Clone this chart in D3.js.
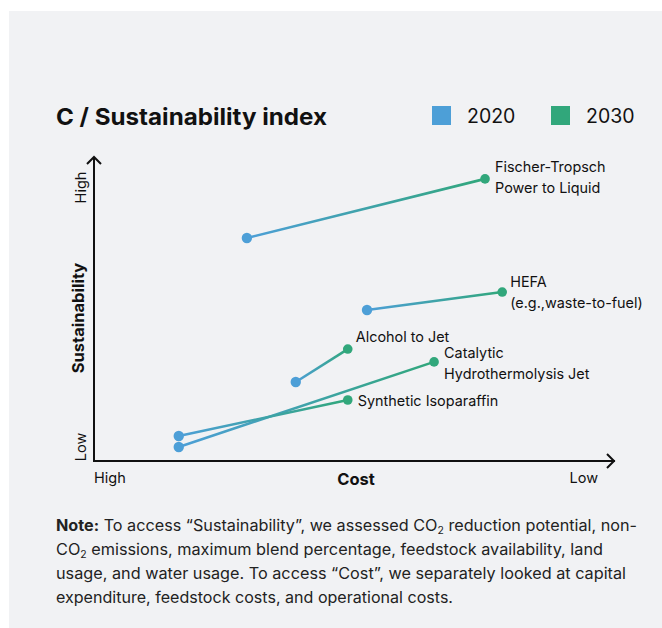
<!DOCTYPE html>
<html lang="en">
<head>
    <meta charset="UTF-8">
    <title>Sustainability index</title>
    <script src="https://d3js.org/d3.v7.min.js"></script>
    <style>
        body { margin: 0; background: #ffffff; }
        text { font-family: Inter, "Noto Sans", Arial, sans-serif; fill: #111; }
    </style>
</head>
<body>
</body>

<script>
    // data (index 0-100, cost axis runs High -> Low)
    var technologies = ["Fischer-Tropsch Power to Liquid", "HEFA", "Alcohol to Jet",
        "Catalytic Hydrothermolysis Jet", "Synthetic Isoparaffin"];
    var labelLines = [["Fischer-Tropsch", "Power to Liquid"], ["HEFA", "(e.g.,waste-to-fuel)"],
        ["Alcohol to Jet"], ["Catalytic", "Hydrothermolysis Jet"], ["Synthetic Isoparaffin"]];
    var cost2020 = [29.4, 52.5, 38.8, 16.3, 16.3];
    var sust2020 = [73.1, 49.5, 25.9, 4.6, 8.2];
    var cost2030 = [75.2, 78.5, 48.8, 65.4, 48.8];
    var sust2030 = [92.5, 55.4, 36.7, 32.5, 20.0];
    var years = ["2020", "2030"];

    var width = 662, height = 628;
    var blue = "#4d9fd7", green = "#31a77b";

    // label placement relative to the 2030 point
    var labelDx = [10, 8, 8, 10, 10];
    var labelDy = [-7, -5, -7, -4, 6];

    var svg = d3.select("body").append("svg")
        .attr("width", width)
        .attr("height", height);

    svg.append("rect")
        .attr("x", 9).attr("y", 11)
        .attr("width", width - 9).attr("height", height - 11)
        .attr("fill", "#f1f2f4");

    var x = d3.scaleLinear().domain([0, 100]).range([94, 614]);
    var y = d3.scaleLinear().domain([0, 100]).range([461, 156]);

    // title + legend
    svg.append("text")
        .attr("x", 56).attr("y", 125)
        .attr("textLength", 271)
        .attr("lengthAdjust", "spacingAndGlyphs")
        .style("font-size", "23px").style("font-weight", 700)
        .text("C / Sustainability index");

    var legend = svg.append("g").selectAll("g")
        .data(years)
        .enter().append("g")
        .attr("transform", function (d, i) { return "translate(" + (432 + i * 119) + ",106)"; });
    legend.append("rect")
        .attr("width", 19).attr("height", 19)
        .attr("fill", function (d, i) { return i == 0 ? blue : green; });
    legend.append("text")
        .attr("x", 35).attr("y", 17)
        .style("font-size", "19.5px")
        .text(function (d) { return d; });

    // axes
    var axes = svg.append("g")
        .attr("fill", "none")
        .attr("stroke", "#111")
        .attr("stroke-width", 2);
    axes.append("path")
        .attr("d", "M" + x(0) + "," + (y(0) + 1) + "V" + (y(100) + 1) + "H" + x(0));
    axes.append("path")
        .attr("d", "M" + (x(0) - 1) + "," + y(0) + "H" + (x(100) + 1));
    axes.append("path")
        .attr("d", "M" + (x(0) - 7) + "," + (y(100) + 8) + "L" + x(0) + "," + (y(100) + 1) + "L" + (x(0) + 7) + "," + (y(100) + 8));
    axes.append("path")
        .attr("d", "M" + (x(100) - 7) + "," + (y(0) - 7) + "L" + x(100) + "," + y(0) + "L" + (x(100) - 7) + "," + (y(0) + 7));

    // axis labels
    svg.append("text")
        .attr("transform", "translate(85.5," + 187.5 + ") rotate(-90)")
        .attr("text-anchor", "middle")
        .style("font-size", "14.5px")
        .text("High");
    svg.append("text")
        .attr("transform", "translate(85.5," + 447 + ") rotate(-90)")
        .attr("text-anchor", "middle")
        .style("font-size", "14.5px")
        .text("Low");
    svg.append("text")
        .attr("transform", "translate(84," + 318 + ") rotate(-90)")
        .attr("text-anchor", "middle")
        .style("font-size", "16.5px").style("font-weight", 700)
        .text("Sustainability");
    svg.append("text")
        .attr("x", 94).attr("y", 483)
        .style("font-size", "14.5px")
        .text("High");
    svg.append("text")
        .attr("x", 598).attr("y", 483)
        .attr("text-anchor", "end")
        .style("font-size", "14.5px")
        .text("Low");
    svg.append("text")
        .attr("x", 356).attr("y", 484.5)
        .attr("text-anchor", "middle")
        .style("font-size", "16.5px").style("font-weight", 700)
        .text("Cost");

    // gradients for each connector
    var defs = svg.append("defs");
    var grad = defs.selectAll("linearGradient")
        .data(technologies)
        .enter().append("linearGradient")
        .attr("id", function (d, i) { return "g" + i; })
        .attr("gradientUnits", "userSpaceOnUse")
        .attr("x1", function (d, i) { return x(cost2020[i]); })
        .attr("y1", function (d, i) { return y(sust2020[i]); })
        .attr("x2", function (d, i) { return x(cost2030[i]); })
        .attr("y2", function (d, i) { return y(sust2030[i]); });
    grad.append("stop").attr("offset", "0%").attr("stop-color", blue);
    grad.append("stop").attr("offset", "100%").attr("stop-color", green);

    var item = svg.append("g").selectAll("g")
        .data(technologies)
        .enter().append("g");

    item.append("line")
        .attr("x1", function (d, i) { return x(cost2020[i]); })
        .attr("y1", function (d, i) { return y(sust2020[i]); })
        .attr("x2", function (d, i) { return x(cost2030[i]); })
        .attr("y2", function (d, i) { return y(sust2030[i]); })
        .attr("stroke", function (d, i) { return "url(#g" + i + ")"; })
        .attr("stroke-width", 2.6);

    item.append("circle")
        .attr("cx", function (d, i) { return x(cost2020[i]); })
        .attr("cy", function (d, i) { return y(sust2020[i]); })
        .attr("r", 5.2)
        .attr("fill", blue);
    item.append("circle")
        .attr("cx", function (d, i) { return x(cost2030[i]); })
        .attr("cy", function (d, i) { return y(sust2030[i]); })
        .attr("r", 4.8)
        .attr("fill", green);

    item.append("text")
        .attr("x", function (d, i) { return x(cost2030[i]) + labelDx[i]; })
        .attr("y", function (d, i) { return y(sust2030[i]) + labelDy[i]; })
        .style("font-size", "14.4px")
        .selectAll("tspan")
        .data(function (d, i) { return labelLines[i]; })
        .enter().append("tspan")
        .attr("x", function () { return this.parentNode.getAttribute("x"); })
        .attr("dy", function (d, j) { return j == 0 ? 0 : 21; })
        .text(function (d) { return d; });

    // note
    var note = [
        [["Note:", true], [" To access \u201cSustainability\u201d, we assessed CO", false], ["2", "sub"], [" reduction potential, non-", false]],
        [["CO", false], ["2", "sub"], [" emissions, maximum blend percentage, feedstock availability, land", false]],
        [["usage, and water usage. To access \u201cCost\u201d, we separately looked at capital", false]],
        [["expenditure, feedstock costs, and operational costs.", false]]
    ];
    var noteWidth = [581, 547, 570, 397];
    note.forEach(function (line, k) {
        var t = svg.append("text")
            .attr("x", 56).attr("y", 531 + k * 24)
            .attr("textLength", noteWidth[k])
            .attr("lengthAdjust", "spacingAndGlyphs")
            .style("font-size", "15.5px")
            .style("fill", "#222");
        line.forEach(function (p) {
            var s = t.append("tspan").text(p[0]);
            if (p[1] === true) s.style("font-weight", 700);
            if (p[1] === "sub") s.style("font-size", "10px").attr("dy", 3);
            else if (p[0].charAt(0) == " " && line.some(function (q) { return q[1] === "sub"; })) s.attr("dy", p === line[line.length - 1] ? -3 : 0);
        });
    });
</script>
</html>
